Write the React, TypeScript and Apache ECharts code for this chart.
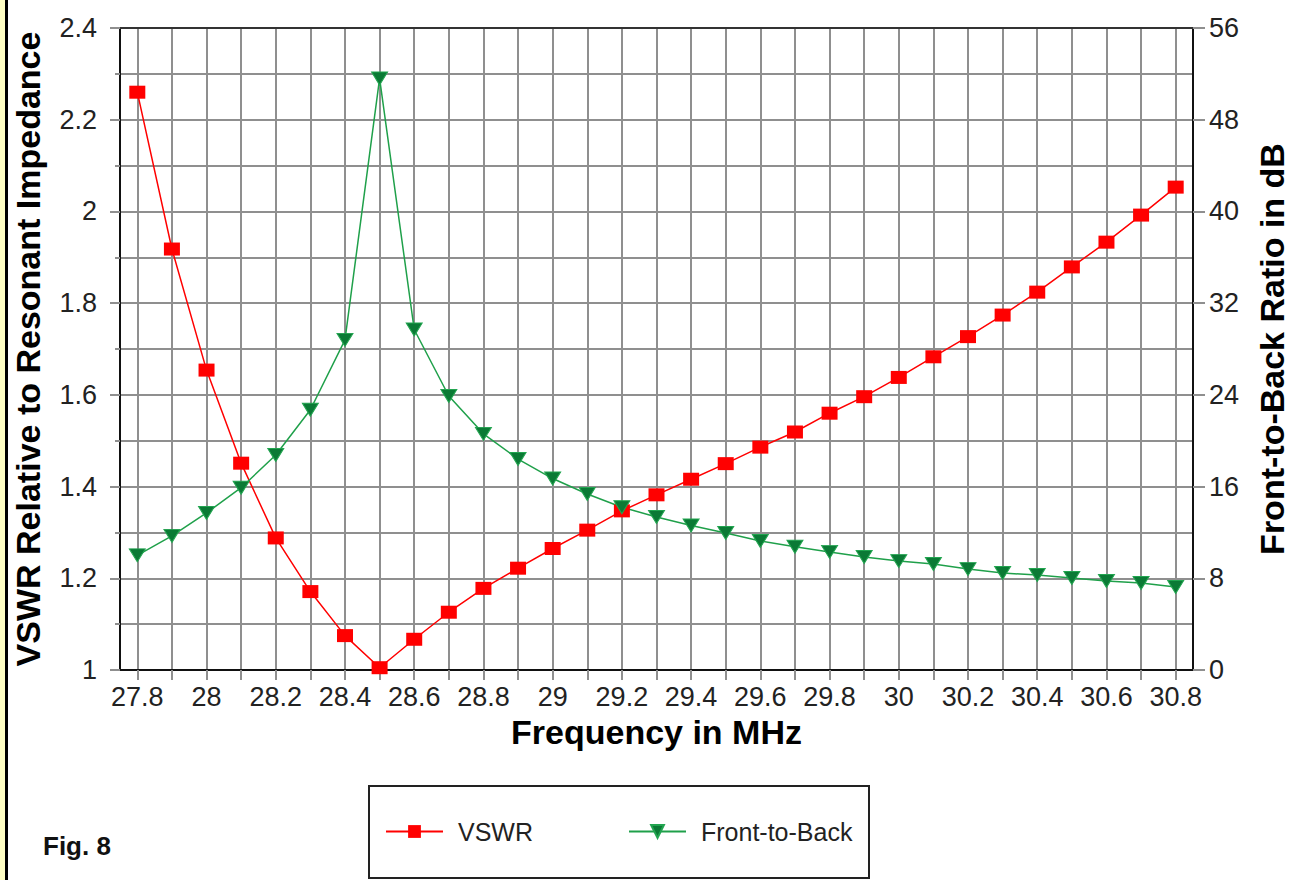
import React, { useEffect, useRef } from "react";
import * as echarts from "echarts";

const freqs = [27.8, 27.9, 28, 28.1, 28.2, 28.3, 28.4, 28.5, 28.6, 28.7, 28.8, 28.9, 29, 29.1, 29.2, 29.3, 29.4, 29.5, 29.6, 29.7, 29.8, 29.9, 30, 30.1, 30.2, 30.3, 30.4, 30.5, 30.6, 30.7, 30.8];
const vswr = [2.26, 1.918, 1.654, 1.451, 1.288, 1.171, 1.075, 1.005, 1.067, 1.126, 1.178, 1.222, 1.265, 1.305, 1.347, 1.382, 1.416, 1.45, 1.486, 1.519, 1.56, 1.596, 1.638, 1.683, 1.727, 1.774, 1.824, 1.879, 1.933, 1.992, 2.053];
const frontToBack = [10.0, 11.7, 13.7, 15.9, 18.75, 22.7, 28.8, 51.6, 29.7, 23.9, 20.6, 18.4, 16.7, 15.35, 14.2, 13.35, 12.6, 11.95, 11.25, 10.75, 10.3, 9.86, 9.5, 9.25, 8.8, 8.46, 8.29, 8.03, 7.76, 7.59, 7.24];
const seriesNames = ["VSWR", "Front-to-Back"];

const FONT = "Liberation Sans";
const GRID = "#8f8f8f";

export default function App() {
  const ref = useRef<HTMLDivElement>(null);
  useEffect(() => {
    if (!ref.current) return;
    const chart = echarts.init(ref.current, undefined, { renderer: "svg" });
    chart.setOption({
      animation: false,
      backgroundColor: "#ffffff",
      textStyle: { fontFamily: FONT },
      grid: { left: 120, right: 97, top: 28, bottom: 210, containLabel: false, outerBoundsMode: "none" },
      legend: {
        data: seriesNames,
        left: 385,
        top: 819,
        padding: 0,
        itemWidth: 57,
        itemHeight: 16,
        itemGap: 95,
        textStyle: { fontSize: 25, color: "#222", fontFamily: FONT, padding: [0, 0, 0, 10] },
      },
      xAxis: [
        {
          type: "category",
          data: freqs.map((f) => String(f)),
          boundaryGap: true,
          name: "Frequency in MHz",
          nameLocation: "middle",
          nameGap: 44,
          nameTextStyle: { fontSize: 34, fontWeight: "bold", color: "#000", fontFamily: FONT },
          axisLine: { show: true, lineStyle: { color: "#111", width: 2 } },
          axisTick: { show: true, interval: 0, alignWithLabel: true, length: 10, lineStyle: { color: GRID, width: 2 } },
          axisLabel: { interval: 1, fontSize: 27, color: "#222", margin: 13, fontFamily: FONT },
          splitLine: { show: true, interval: 0, alignWithLabel: true, lineStyle: { color: GRID, width: 2 } },
        },
        {
          type: "category",
          position: "top",
          data: freqs.map((f) => String(f)),
          axisLine: { show: true, lineStyle: { color: "#333", width: 2 } },
          axisTick: { show: false },
          axisLabel: { show: false },
          splitLine: { show: false },
        },
      ],
      yAxis: [
        {
          type: "value",
          min: 1,
          max: 2.4,
          interval: 0.2,
          position: "left",
          name: "VSWR Relative to Resonant Impedance",
          nameLocation: "middle",
          nameGap: 75,
          nameTextStyle: { fontSize: 34, fontWeight: "bold", color: "#000", fontFamily: FONT },
          axisLine: { show: true, lineStyle: { color: "#111", width: 2 } },
          axisTick: { show: true, length: 10, lineStyle: { color: GRID, width: 2 } },
          minorTick: { show: true, splitNumber: 2, length: 5, lineStyle: { color: GRID, width: 2 } },
          axisLabel: {
            fontSize: 27,
            color: "#222",
            margin: 23,
            fontFamily: FONT,
            formatter: (v: number) => String(+v.toFixed(1)),
          },
          splitLine: { show: true, lineStyle: { color: GRID, width: 2 } },
          minorSplitLine: { show: true, lineStyle: { color: GRID, width: 2 } },
        },
        {
          type: "value",
          min: 0,
          max: 56,
          interval: 8,
          position: "right",
          name: "Front-to-Back Ratio in dB",
          nameLocation: "middle",
          nameGap: 62,
          nameTextStyle: { fontSize: 34, fontWeight: "bold", color: "#000", fontFamily: FONT },
          axisLine: { show: true, lineStyle: { color: "#111", width: 2 } },
          axisTick: { show: true, length: 12, lineStyle: { color: GRID, width: 2 } },
          axisLabel: { fontSize: 27, color: "#222", margin: 16, fontFamily: FONT },
          splitLine: { show: false },
        },
      ],
      series: [
        {
          name: seriesNames[0],
          type: "line",
          data: vswr,
          xAxisIndex: 0,
          yAxisIndex: 0,
          symbol: "rect",
          symbolSize: [16, 13],
          lineStyle: { color: "#ff0000", width: 1.5 },
          itemStyle: { color: "#ff0000" },
          z: 3,
        },
        {
          name: seriesNames[1],
          type: "line",
          data: frontToBack,
          xAxisIndex: 0,
          yAxisIndex: 1,
          symbol: "triangle",
          symbolRotate: 180,
          symbolSize: [16, 13],
          lineStyle: { color: "#1fa04a", width: 1.5 },
          itemStyle: { color: "#0b7a35", borderColor: "#22a550", borderWidth: 1 },
          z: 3,
        },
      ],
      graphic: [
        { type: "rect", shape: { x: 0, y: 0, width: 5, height: 880 }, style: { fill: "#ffffc4" } },
        { type: "rect", shape: { x: 5, y: 0, width: 3, height: 880 }, style: { fill: "#000" } },
        { type: "rect", shape: { x: 369, y: 786, width: 500, height: 92 }, style: { fill: "none", stroke: "#222", lineWidth: 2 } },
        {
          type: "text",
          x: 43,
          y: 846,
          style: { text: "Fig. 8", font: `bold 26px "${FONT}"`, fill: "#111", verticalAlign: "middle", align: "left" },
        },
      ],
    });
    return () => chart.dispose();
  }, []);
  return (
    <div style={{ position: "absolute", left: 0, top: 0, width: 1290, height: 880, background: "#fff" }}>
      <div ref={ref} style={{ width: 1290, height: 880 }} />
    </div>
  );
}
